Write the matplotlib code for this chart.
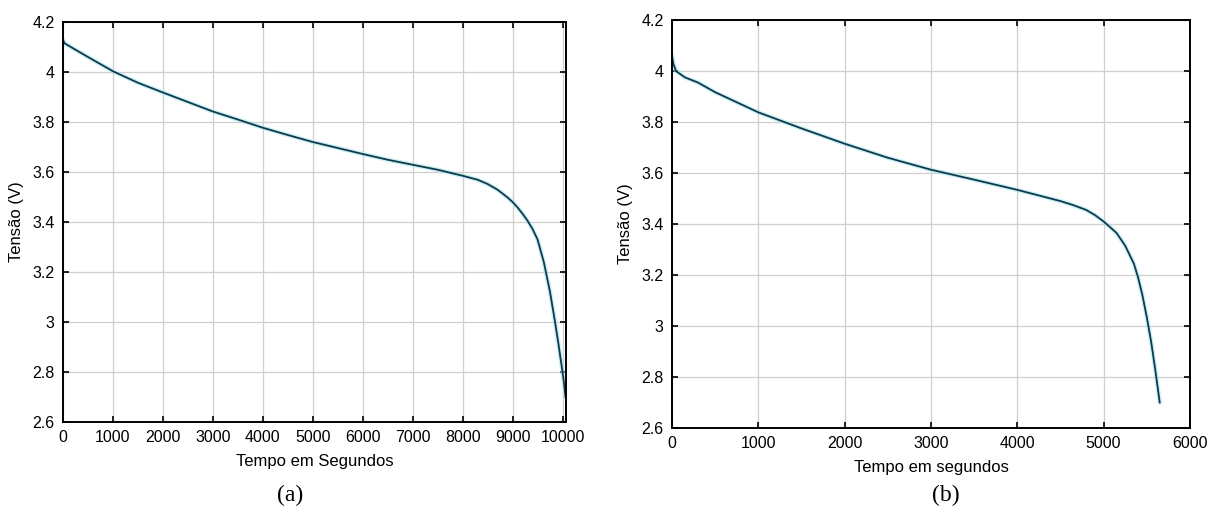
import matplotlib
matplotlib.use('Agg')
import matplotlib.pyplot as plt
from matplotlib.ticker import FuncFormatter

plt.rcParams['font.family'] = ['Liberation Sans', 'DejaVu Sans']

# (a) discharge curve, time in s, voltage in V
t_a = [0, 30, 200, 500, 1000, 1500, 2000, 2500, 3000, 3500, 4000, 4500,
       5000, 5500, 6000, 6500, 7000, 7500, 8000, 8300, 8500, 8700, 8900,
       9000, 9100, 9200, 9300, 9400, 9500, 9625, 9750, 9850, 9920, 10000,
       10030, 10060]
v_a = [4.13, 4.115, 4.095, 4.06, 4.003, 3.957, 3.918, 3.88, 3.842, 3.81,
       3.777, 3.748, 3.72, 3.696, 3.672, 3.649, 3.629, 3.609, 3.585, 3.569,
       3.552, 3.529, 3.498, 3.48, 3.458, 3.433, 3.405, 3.372, 3.33, 3.24,
       3.12, 3.0, 2.91, 2.80, 2.755, 2.70]

# (b) discharge curve
t_b = [0, 15, 46, 150, 300, 500, 1000, 1500, 2000, 2500, 3000, 3500, 4000,
       4500, 4650, 4800, 4900, 5000, 5150, 5250, 5350, 5400, 5450, 5500,
       5550, 5600, 5650]
v_b = [4.06, 4.03, 4.0, 3.975, 3.955, 3.917, 3.838, 3.775, 3.715, 3.66,
       3.613, 3.574, 3.534, 3.49, 3.474, 3.455, 3.435, 3.41, 3.365, 3.315,
       3.245, 3.19, 3.12, 3.035, 2.94, 2.825, 2.70]

yticks = [2.6, 2.8, 3.0, 3.2, 3.4, 3.6, 3.8, 4.0, 4.2]
xticks_a = list(range(0, 10001, 1000))
xticks_b = list(range(0, 6001, 1000))

line_c = '#0f3a48'
halo_c = '#a8e4f2'
grid_c = '#cfcfcf'

fig = plt.figure(figsize=(12.11, 5.15), dpi=100)
ax1 = fig.add_axes([0.052, 0.1806, 0.4154, 0.7767])
ax2 = fig.add_axes([0.5549, 0.1689, 0.4277, 0.7922])

fmt = FuncFormatter(lambda v, p: '%g' % round(v, 2))

for ax, t, v, xt, xmax, xlab in [
        (ax1, t_a, v_a, xticks_a, 10070, 'Tempo em Segundos'),
        (ax2, t_b, v_b, xticks_b, 6000, 'Tempo em segundos')]:
    ax.plot(t, v, color=halo_c, lw=3.2, alpha=0.6, solid_capstyle='round')
    ax.plot(t, v, color=line_c, lw=1.3)
    ax.set_xlim(0, xmax)
    ax.set_ylim(2.6, 4.2)
    ax.set_xticks(xt)
    ax.set_yticks(yticks)
    ax.yaxis.set_major_formatter(fmt)
    ax.grid(True, color=grid_c, lw=0.9)
    ax.set_axisbelow(True)
    ax.tick_params(direction='in', top=True, right=True, length=4,
                   width=1.2, labelsize=11.5, pad=6)
    for s in ax.spines.values():
        s.set_linewidth(1.4)
    ax.set_xlabel(xlab, fontsize=12, labelpad=6)
    ax.set_ylabel('Tensão (V)', fontsize=12, labelpad=6)

fig.text(0.2395, 0.038, '(a)', family='Liberation Serif', fontsize=17,
         ha='center', va='center')
fig.text(0.781, 0.038, '(b)', family='Liberation Serif', fontsize=17,
         ha='center', va='center')

plt.savefig('out.png', dpi=100)
